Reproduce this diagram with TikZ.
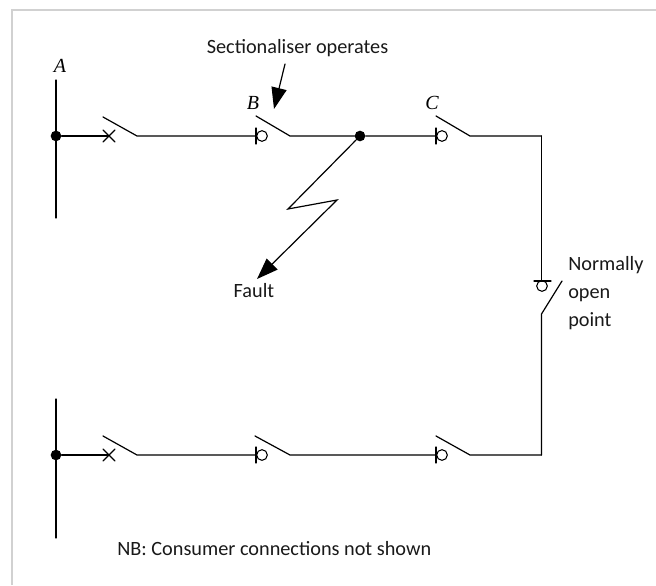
\documentclass[tikz,border=0pt]{standalone}
\usepackage{fontspec}
\setmainfont{Carlito}
\newfontfamily\labfont{Liberation Serif}
\usetikzlibrary{arrows.meta}
\tikzset{
  px/.style={x=0.75pt,y=-0.75pt},
  wire/.style={line width=0.9pt,line cap=round,line join=miter,black},
  dotnode/.style={circle,fill=black,draw=none,inner sep=0pt,minimum size=8pt},
  ringnode/.style={circle,draw=black,line width=0.8pt,fill=white,inner sep=0pt,minimum size=8pt},
  txt/.style={inner sep=0pt,font=\fontsize{15.2pt}{21pt}\selectfont,text=black!90},
  ital/.style={inner sep=0pt,font=\labfont\itshape\fontsize{15pt}{16pt}\selectfont},
  bighead/.style={-{Triangle[length=16pt,width=11.5pt]}},
  frameline/.style={line width=1.5pt,draw=black!18}
}
\begin{document}
\begin{tikzpicture}[px]
\useasboundingbox (0,0) rectangle (656,585);
% frame
\coordinate (fa) at (12,585); \coordinate (fb) at (12,10); \coordinate (fc) at (656,10);
\draw[frameline] (fa) -- (fb) -- (fc);
% top row
\coordinate (a1) at (56,80); \coordinate (a2) at (56,218);
\node[dotnode] (da) at (56,136) {};
\draw[wire] (a1) -- (a2);
\coordinate (x1) at (109,136); \coordinate (x1a) at (103,130); \coordinate (x1b) at (115,142);
\coordinate (x1c) at (103,142); \coordinate (x1d) at (115,130);
\coordinate (s1t) at (103,117); \coordinate (s1e) at (137,136);
\coordinate (b0) at (256,136); \coordinate (b0u) at (256,128); \coordinate (b0d) at (256,144);
\coordinate (s2t) at (256,116); \coordinate (s2e) at (290,136);
\node[ringnode] (rb) at (262,136) {};
\node[dotnode] (df) at (360,136) {};
\coordinate (c0) at (436,136); \coordinate (c0u) at (436,128); \coordinate (c0d) at (436,144);
\coordinate (s3t) at (436,116); \coordinate (s3e) at (470,136);
\node[ringnode] (rc) at (442,136) {};
\coordinate (corner1) at (541.5,136);
\draw[wire] (da) -- (x1);
\draw[wire] (x1a) -- (x1b); \draw[wire] (x1c) -- (x1d);
\draw[wire] (s1t) -- (s1e) -- (b0);
\draw[wire] (b0u) -- (b0d);
\draw[wire] (s2t) -- (s2e) -- (df) -- (c0);
\draw[wire] (c0u) -- (c0d);
\draw[wire] (s3t) -- (s3e) -- (corner1);
% normally open point
\coordinate (n0) at (541.5,281); \coordinate (n0l) at (534,281); \coordinate (n0r) at (551,281);
\node[ringnode] (rn) at (542,286) {};
\coordinate (ntop) at (562,281); \coordinate (nbot) at (541.5,314);
\coordinate (corner2) at (541.5,455);
\draw[wire] (corner1) -- (n0);
\draw[wire] (n0l) -- (n0r);
\draw[wire] (ntop) -- (nbot) -- (corner2);
% bottom row
\coordinate (l1) at (56,399); \coordinate (l2) at (56,538);
\node[dotnode] (dl) at (56,455) {};
\draw[wire] (l1) -- (l2);
\coordinate (y1) at (109,455); \coordinate (y1a) at (103,449); \coordinate (y1b) at (115,461);
\coordinate (y1c) at (103,461); \coordinate (y1d) at (115,449);
\coordinate (t1t) at (103,436); \coordinate (t1e) at (137,455);
\coordinate (e0) at (256,455); \coordinate (e0u) at (256,447); \coordinate (e0d) at (256,463);
\coordinate (t2t) at (255,436); \coordinate (t2e) at (290,455);
\node[ringnode] (re) at (262,455) {};
\coordinate (f0) at (436,455); \coordinate (f0u) at (436,447); \coordinate (f0d) at (436,463);
\coordinate (t3t) at (436,436); \coordinate (t3e) at (470,455);
\node[ringnode] (rf) at (442,455) {};
\draw[wire] (dl) -- (y1);
\draw[wire] (y1a) -- (y1b); \draw[wire] (y1c) -- (y1d);
\draw[wire] (t1t) -- (t1e) -- (e0);
\draw[wire] (e0u) -- (e0d);
\draw[wire] (t2t) -- (t2e) -- (f0);
\draw[wire] (f0u) -- (f0d);
\draw[wire] (t3t) -- (t3e) -- (corner2);
% fault
\coordinate (z1) at (288,209); \coordinate (z2) at (337,200); \coordinate (ztip) at (257,279);
\draw[wire,bighead,line join=miter] (df) -- (z1) -- (z2) -- (ztip);
% sectionaliser arrow
\coordinate (sa) at (285,64); \coordinate (stip) at (274,109);
\draw[wire,bighead] (sa) -- (stip);
% labels
\node[ital] (la) at (60,66) {A};
\node[ital] (lb) at (253,103) {B};
\node[ital] (lc) at (432,103) {C};
\node[txt] (lsec) at (297.5,48) {Sectionaliser operates};
\node[txt] (lfault) at (254,291) {Fault};
\node[txt,anchor=north west,align=left] (lnop) at (568,256) {Normally\\open\\point};
\node[txt,anchor=west] (lnb) at (117,549) {NB: Consumer connections not shown};
\end{tikzpicture}
\end{document}
